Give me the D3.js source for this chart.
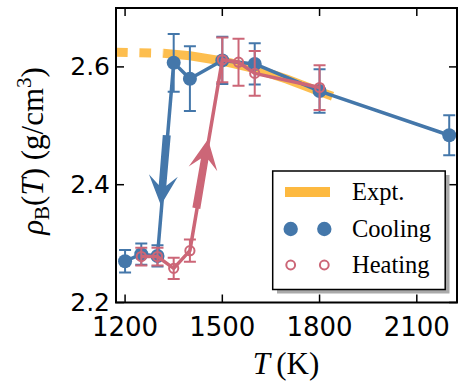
<!DOCTYPE html>
<html><head><meta charset="utf-8">
<script src="https://cdn.jsdelivr.net/npm/d3@7"></script>
<style>body{margin:0;background:#fff}svg{display:block}</style>
</head><body><svg id="c" width="458" height="383"></svg>
<script>
// ---- data ----
const coolT   = [1200, 1250, 1300, 1350, 1400, 1500, 1600, 1800, 2200];
const coolRho = [2.270, 2.282, 2.279, 2.607, 2.580, 2.611, 2.605, 2.559, 2.484];
const coolErr = [0.019, 0.018, 0.018, 0.049, 0.055, 0.040, 0.035, 0.037, 0.034];
const heatT   = [1250, 1300, 1350, 1400, 1500, 1550, 1600, 1800];
const heatRho = [2.278, 2.278, 2.258, 2.288, 2.612, 2.608, 2.589, 2.565];
const heatErr = [0.015, 0.015, 0.018, 0.019, 0.038, 0.040, 0.038, 0.038];
const exptDashT   = [1172, 1318];
const exptDashRho = [2.625, 2.623];
const exptT   = [1318, 1400, 1500, 1600, 1700, 1800, 1840];
const exptRho = [2.623, 2.619, 2.610, 2.597, 2.579, 2.558, 2.550];
const xTicks = [1200, 1500, 1800, 2100];
const yTicks = [2.2, 2.4, 2.6];
// arrows: [tailT, tailRho, tipT, tipRho]
const coolArrow = [1328.6, 2.484, 1310.4, 2.365];
const heatArrow = [1419.8, 2.360, 1455.9, 2.477];

const BLUE = "#4477AA", RED = "#CC6677", ORANGE = "#FDB940";
const svg = d3.select("#c");
const L = 116, R = 457, T = 8, B = 302.5;
const x = d3.scaleLinear().domain([1172, 2224]).range([L, R]);
const y = d3.scaleLinear().domain([2.2, 2.7]).range([B, T]);

const plot = svg.append("g");
plot.append("clipPath").attr("id","clip").append("rect")
  .attr("x",L).attr("y",T).attr("width",R-L).attr("height",B-T);
const g = plot.append("g").attr("clip-path","url(#clip)");

const line = d3.line().x(d=>x(d[0])).y(d=>y(d[1]));
// experimental
g.append("path").datum(exptDashT.map((t,i)=>[t,exptDashRho[i]]))
  .attr("d",line).attr("fill","none").attr("stroke",ORANGE).attr("stroke-width",9)
  .attr("stroke-dasharray","11.7,11.7").attr("opacity",0.92);
g.append("path").datum(exptT.map((t,i)=>[t,exptRho[i]]))
  .attr("d",line).attr("fill","none").attr("stroke",ORANGE).attr("stroke-width",9).attr("opacity",0.92);

function series(Ts, rs, es, color, filled, r) {
  const gg = g.append("g");
  const pts = Ts.map((t,i)=>[t,rs[i],es[i]]);
  gg.append("path").datum(pts).attr("d",line).attr("fill","none")
    .attr("stroke",color).attr("stroke-width",3.5).attr("stroke-linejoin","round");
  const eb = gg.selectAll(".eb").data(pts).enter().append("g");
  eb.append("line").attr("x1",d=>x(d[0])).attr("x2",d=>x(d[0]))
    .attr("y1",d=>y(d[1]-d[2])).attr("y2",d=>y(d[1]+d[2])).attr("stroke",color).attr("stroke-width",2);
  [1,-1].forEach(s=>{
    eb.append("line").attr("x1",d=>x(d[0])-6).attr("x2",d=>x(d[0])+6)
      .attr("y1",d=>y(d[1]+s*d[2])).attr("y2",d=>y(d[1]+s*d[2])).attr("stroke",color).attr("stroke-width",2);
  });
  gg.selectAll("circle").data(pts).enter().append("circle")
    .attr("cx",d=>x(d[0])).attr("cy",d=>y(d[1])).attr("r",r)
    .attr("fill",filled?color:"none").attr("stroke",color).attr("stroke-width",filled?0:2);
  return gg;
}
series(coolT, coolRho, coolErr, BLUE, true, 7);
series(heatT, heatRho, heatErr, RED, false, 4.6);

function arrow(a, color) {
  const x0=x(a[0]), y0=y(a[1]), x1=x(a[2]), y1=y(a[3]);
  const dx=x1-x0, dy=y1-y0, len=Math.hypot(dx,dy);
  const ux=dx/len, uy=dy/len, vx=-uy, vy=ux;
  const P=(s,t)=>[x0+ux*s+vx*t, y0+uy*s+vy*t];
  const pts=[P(0,-4),P(len-20,-3.8),P(len-30,-14.5),P(len,0),P(len-30,14.5),P(len-20,3.8),P(0,4)];
  g.append("path").attr("d","M"+pts.map(p=>p.join(",")).join("L")+"Z").attr("fill",color);
}
arrow(coolArrow, BLUE);
arrow(heatArrow, RED);

// frame
svg.append("rect").attr("x",L).attr("y",T).attr("width",R-L).attr("height",B-T)
  .attr("fill","none").attr("stroke","#000").attr("stroke-width",2);
// ticks inward on all sides
const tk = svg.append("g").attr("stroke","#000").attr("stroke-width",1.5);
xTicks.forEach(t=>{
  tk.append("line").attr("x1",x(t)).attr("x2",x(t)).attr("y1",B).attr("y2",B-8);
  tk.append("line").attr("x1",x(t)).attr("x2",x(t)).attr("y1",T).attr("y2",T+8);
});
yTicks.forEach(t=>{
  tk.append("line").attr("x1",L).attr("x2",L+8).attr("y1",y(t)).attr("y2",y(t));
  tk.append("line").attr("x1",R).attr("x2",R-8).attr("y1",y(t)).attr("y2",y(t));
});
const sans = "'DejaVu Sans', sans-serif";
svg.append("g").selectAll("text").data(xTicks).enter().append("text")
  .attr("x",d=>x(d)).attr("y",336).attr("text-anchor","middle")
  .attr("font-family",sans).attr("font-size",26).text(d=>d);
svg.append("g").selectAll("text").data(yTicks).enter().append("text")
  .attr("x",110).attr("y",d=>y(d)+8.5).attr("text-anchor","end")
  .attr("font-family",sans).attr("font-size",25).text(d=>d.toFixed(1));

const serif = "'Liberation Serif', serif";
// x label
const xl = svg.append("text").attr("x",286).attr("y",374).attr("text-anchor","middle")
  .attr("font-family",serif).attr("font-size",31);
xl.append("tspan").attr("font-style","italic").text("T");
xl.append("tspan").text("\u2009(K)");
// y label
const yl = svg.append("text").attr("transform","translate(43,151) rotate(-90)")
  .attr("text-anchor","middle").attr("font-family",serif).attr("font-size",31);
yl.append("tspan").attr("font-style","italic").text("ρ");
yl.append("tspan").attr("font-size",21).attr("dy",6).text("B");
yl.append("tspan").attr("dy",-6).text("(");
yl.append("tspan").attr("font-style","italic").text("T");
yl.append("tspan").text(") (g/cm");
yl.append("tspan").attr("font-size",21).attr("dy",-12).text("3");
yl.append("tspan").attr("dy",12).text(")");

// legend
const lg = svg.append("g");
lg.append("rect").attr("x",277).attr("y",175).attr("width",172.5).attr("height",118.5).attr("fill","#aaa");
lg.append("rect").attr("x",272.7).attr("y",171).attr("width",172.5).attr("height",118.5)
  .attr("fill","#fff").attr("stroke","#000").attr("stroke-width",1.5);
lg.append("line").attr("x1",285).attr("x2",330).attr("y1",192).attr("y2",192)
  .attr("stroke",ORANGE).attr("stroke-width",10);
[290.7,324.3].forEach(cx=>{
  lg.append("circle").attr("cx",cx).attr("cy",229).attr("r",7.2).attr("fill",BLUE);
  lg.append("circle").attr("cx",cx).attr("cy",265).attr("r",4.4).attr("fill","none").attr("stroke",RED).attr("stroke-width",2);
});
const labels = ["Expt.","Cooling","Heating"];
lg.selectAll("text.l").data(labels).enter().append("text")
  .attr("x",352).attr("y",(d,i)=>200+i*36.5).attr("font-family",serif).attr("font-size",24.5).text(d=>d);
</script></body></html>
